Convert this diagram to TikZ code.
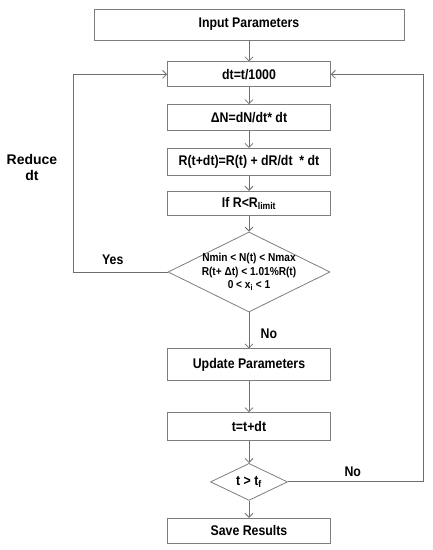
\documentclass[tikz,border=0pt]{standalone}
\usepackage{fontspec}
\setmainfont{Liberation Sans}[FakeStretch=0.88]
\newfontfamily\widefont{Liberation Sans}
\usepackage{tikz}
\usetikzlibrary{shapes.geometric, arrows.meta, positioning, calc}
\usepackage{xcolor}

\definecolor{boxgray}{RGB}{125,125,125}
\definecolor{linegray}{RGB}{110,110,110}
\newcommand{\boxfont}{\fontsize{14}{16}\selectfont\bfseries}
\newcommand{\condfont}{\fontsize{11.5}{13.5}\selectfont\bfseries}

\begin{document}
\begin{tikzpicture}[x=1pt, y=1pt,
    box/.style={rectangle, draw=boxgray, line width=0.8pt, minimum width=163pt, minimum height=26pt, inner sep=2pt, font=\boxfont},
    decision/.style={diamond, draw=boxgray, line width=0.8pt, inner sep=0pt, shape aspect=2, align=center},
    arrow/.style={-{Straight Barb[length=4pt, width=8pt]}, draw=linegray, line width=0.8pt},
    lbl/.style={font=\boxfont, text=black},
    node distance=17pt
]
    \useasboundingbox (0,0) rectangle (432,550);

    \node[box, minimum width=310pt, minimum height=31pt] (input) at (249,525.5) {Input Parameters};
    \node[box, minimum height=25pt, below=21pt of input] (dt) {dt=t/1000};
    \node[box, below=of dt] (dN) {ΔN=dN/dt* dt};
    \node[box, minimum height=27pt, below=of dN] (Rt) {R(t+dt)=R(t) + dR/dt\ \ * dt};
    \node[box, minimum height=24pt, below=15pt of Rt] (ifR) {If R<R\textsubscript{limit}};
    \node[decision, minimum width=162pt, minimum height=80pt, inner sep=-9pt, font=\condfont, below=16pt of ifR] (check)
        {Nmin < N(t) < Nmax\\R(t+ Δt) < 1.01\%R(t)\\0 < x\textsubscript{i} < 1};
    \node[box, minimum height=32pt, below=36pt of check] (update) {Update Parameters};
    \node[box, minimum height=28pt, below=31pt of update] (tdt) {t=t+dt};
    \node[decision, minimum width=77pt, minimum height=37pt, font=\boxfont, below=22pt of tdt] (tf) {t > t\textsubscript{f}};
    \node[box, minimum height=25pt, below=17pt of tf] (save) {Save Results};

    \coordinate (leftturn) at (73,0 |- check.west);
    \coordinate (rightturn) at (423,0 |- tf.east);

    \draw[arrow] (input) -- (dt);
    \draw[arrow] (dt) -- (dN);
    \draw[arrow] (dN) -- (Rt);
    \draw[arrow] (Rt) -- (ifR);
    \draw[arrow] (ifR) -- (check);
    \draw[arrow] (check) -- node[lbl, pos=0.6, right=8pt] {No} (update);
    \draw[arrow] (update) -- (tdt);
    \draw[arrow] (tdt) -- (tf);
    \draw[arrow] (tf) -- (save);

    % loops back to the time step
    \draw[arrow] (check.west) -- node[lbl, pos=0.58, above=4pt] {Yes} (leftturn)
        |- node[pos=0.265, left=12pt, align=center, font=\widefont\fontsize{14}{16}\selectfont\bfseries] {Reduce\\dt} (dt.west);
    \draw[arrow] (tf.east) -- node[lbl, pos=0.48, above=2pt] {No} (rightturn) |- (dt.east);
\end{tikzpicture}
\end{document}
